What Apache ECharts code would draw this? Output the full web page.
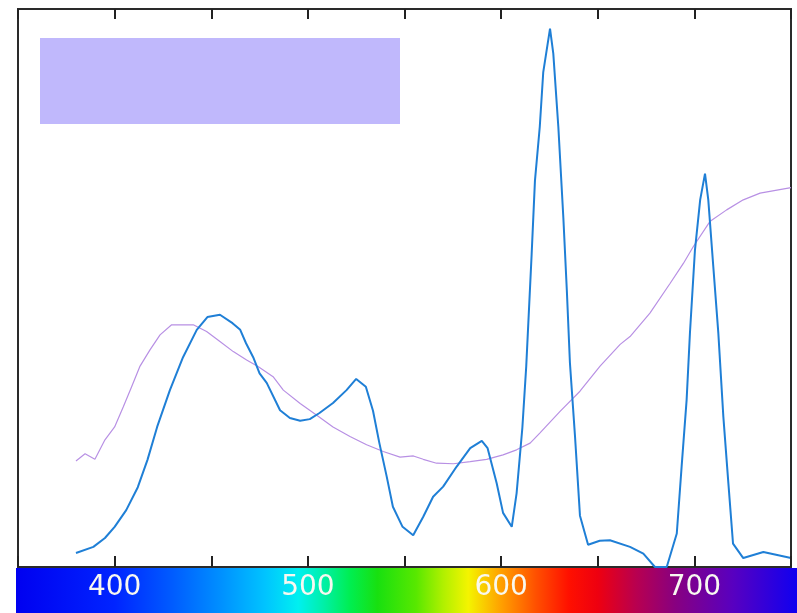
<!DOCTYPE html>
<html>
<head>
<meta charset="utf-8">
<script src="https://cdn.jsdelivr.net/npm/echarts@6/dist/echarts.min.js"></script>
<style>
  html, body { margin: 0; padding: 0; background: #fff; }
  #main { width: 797px; height: 613px; }
</style>
</head>
<body>
<div id="main"></div>
<script>
// wavelength (nm) / relative intensity
var blueNm = [380, 389, 395, 400, 406, 412, 417, 422, 428.6, 435.4, 442.5, 448, 454.5, 461, 465, 468, 471.7, 475, 478.7, 485.6, 490.7, 496, 501, 506, 513, 520, 525, 530, 533.7, 537, 540.8, 544, 549, 554.5, 559.7, 564.8, 570, 577, 584, 590, 593, 597.7, 601, 605.5, 608, 611, 613, 615.8, 617.5, 620, 621.8, 625.3, 627, 629.6, 632.2, 634, 635.6, 638.2, 640.8, 645, 651, 656.3, 666.7, 673.6, 679.6, 685.7, 690.9, 693.4, 696, 697.7, 700.3, 703, 705.5, 707.2, 709.8, 712.4, 715, 717.6, 720, 725.3, 735.7, 750];
var blueVal = [2.5, 3.6, 5.2, 7.2, 10.2, 14.3, 19.2, 25.1, 31.7, 37.6, 42.5, 44.8, 45.2, 43.7, 42.5, 40.1, 37.6, 34.7, 33, 28.1, 26.7, 26.2, 26.5, 27.6, 29.4, 31.7, 33.7, 32.3, 28, 22.2, 16.2, 10.8, 7.2, 5.7, 9, 12.6, 14.4, 18, 21.3, 22.6, 21.3, 15, 9.7, 7.2, 13.2, 25, 36, 56.1, 69.2, 78.9, 88.7, 96.5, 92, 78.9, 62.6, 49.6, 36.6, 23.6, 9.2, 4, 4.7, 4.8, 3.6, 2.4, 0, 0, 6, 18, 30, 41.9, 56.8, 65.8, 70.5, 65.8, 53.8, 41.9, 26.9, 15, 4.2, 1.6, 2.7, 1.6];

var purpleNm = [380, 384.7, 389.8, 395, 400, 404.5, 408.8, 413, 418.3, 423.5, 429.5, 440.7, 447.6, 454.5, 461.4, 468.3, 474.4, 482, 487.3, 496, 504.6, 513, 521.8, 530.4, 539, 547.7, 554.6, 559.7, 566.6, 575.3, 584, 592.5, 601, 608, 615, 620, 630.5, 640.8, 651.2, 661.6, 666.7, 677, 687.4, 694.3, 699.4, 708, 716.7, 725.3, 734, 750];
var purpleVal = [19, 20.3, 19.3, 22.8, 25.1, 28.7, 32.3, 35.9, 38.9, 41.6, 43.4, 43.4, 42.2, 40.4, 38.6, 37.1, 35.9, 34.1, 31.7, 29.3, 27.2, 25.1, 23.4, 21.9, 20.7, 19.7, 19.9, 19.3, 18.6, 18.5, 18.9, 19.3, 20.1, 21, 22.2, 24, 27.9, 31.5, 36, 39.9, 41.3, 45.5, 50.8, 54.4, 57.4, 61.9, 64, 65.8, 67, 68];

// spectrum colours for the bar under the axis
var specNm = [350, 400, 430, 455, 478, 495, 508, 522, 536, 556, 570, 583, 600, 618, 635, 650, 670, 690, 720, 750];
var specColor = ['#0000f0', '#0024ff', '#005cff', '#0090ff', '#00c4ff', '#00f0f0', '#00f0a8', '#00ee50', '#18e010', '#58e800', '#b0f000', '#f4f400', '#ffa000', '#ff5000', '#ff1000', '#ee0010', '#b80050', '#880080', '#5800c0', '#1000f0'];

function pairs(xs, ys) {
  var out = [];
  for (var i = 0; i < xs.length; i++) out.push([xs[i], ys[i]]);
  return out;
}

var chart = echarts.init(document.getElementById('main'));

var option = {
  animation: false,
  backgroundColor: '#fff',
  grid: {
    left: 18, right: 6, top: 9, bottom: 46,
    show: true, borderColor: '#2a2a2a', borderWidth: 2, backgroundColor: 'transparent'
  },
  xAxis: [
    {
      type: 'value', min: 350, max: 750, interval: 50, position: 'bottom', z: 10,
      axisLine: { show: false },
      axisTick: { show: true, inside: true, length: 11, lineStyle: { color: '#222', width: 2 } },
      splitLine: { show: false },
      axisLabel: {
        color: '#f8f8f0', fontFamily: 'DejaVu Sans', fontSize: 28, margin: 7,
        formatter: function (v) { return v % 100 === 0 ? String(v) : ''; }
      }
    },
    {
      type: 'value', min: 350, max: 750, interval: 50, position: 'top', z: 10,
      axisLine: { show: false },
      axisTick: { show: true, inside: true, length: 10, lineStyle: { color: '#222', width: 2 } },
      splitLine: { show: false },
      axisLabel: { show: false }
    }
  ],
  yAxis: {
    type: 'value', min: 0, max: 100,
    axisLine: { show: false }, axisTick: { show: false },
    axisLabel: { show: false }, splitLine: { show: false }
  },
  series: [
    {
      type: 'line', name: 'purple', data: pairs(purpleNm, purpleVal),
      showSymbol: false, lineStyle: { color: '#b890e4', width: 1.2 }
    },
    {
      type: 'line', name: 'blue', data: pairs(blueNm, blueVal),
      showSymbol: false, lineStyle: { color: '#1f7fd6', width: 2 }
    }
  ]
};
chart.setOption(option);

// colour bar below the plot, stops placed through the x axis
var barLeft = 16, barRight = 797;
var stops = specNm.map(function (nm, i) {
  var px = chart.convertToPixel({ xAxisIndex: 0 }, nm);
  var off = Math.min(1, Math.max(0, (px - barLeft) / (barRight - barLeft)));
  if (i === 0) off = 0;
  if (i === specNm.length - 1) off = 1;
  return { offset: off, color: specColor[i] };
});

chart.setOption({
  graphic: [
    {
      type: 'rect', z: -10,
      shape: { x: barLeft, y: 568, width: barRight - barLeft, height: 45 },
      style: { fill: new echarts.graphic.LinearGradient(0, 0, 1, 0, stops) }
    },
    {
      type: 'rect', z: 1,
      shape: { x: 40, y: 38, width: 360, height: 86 },
      style: { fill: '#c0b8fc' }
    }
  ]
});
</script>
</body>
</html>
